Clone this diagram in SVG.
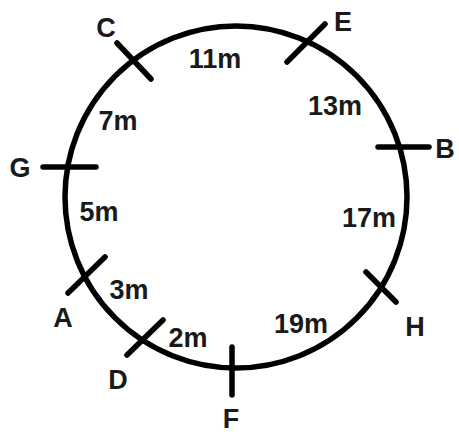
<svg xmlns="http://www.w3.org/2000/svg" width="459" height="434" viewBox="0 0 459 434">
<style>
.ring{fill:none;stroke:#000;stroke-width:5.5}
.tick{stroke:#000;stroke-width:5.5;stroke-linecap:round}
text{font-family:"Liberation Sans",Arial,sans-serif;font-weight:bold;font-size:27px;fill:#1a1a1a;text-anchor:middle}
</style>
<rect width="459" height="434" fill="#fff"/>
<g id="connectors">
<circle class="ring" cx="236" cy="197" r="171"/>
<text x="215" y="68">11m</text>
<text x="335" y="115">13m</text>
<text x="369" y="227">17m</text>
<text x="301" y="333">19m</text>
<text x="188" y="347">2m</text>
<text x="129" y="299">3m</text>
<text x="99" y="221">5m</text>
<text x="118" y="130">7m</text>
</g>
<g id="C"><line class="tick" x1="117" y1="43" x2="151" y2="79"/><text x="106" y="37">C</text></g>
<g id="E"><line class="tick" x1="287" y1="62" x2="325" y2="24"/><text x="343" y="31">E</text></g>
<g id="B"><line class="tick" x1="378" y1="147" x2="429" y2="147"/><text x="445" y="158">B</text></g>
<g id="H"><line class="tick" x1="366" y1="272" x2="396" y2="302"/><text x="415" y="336">H</text></g>
<g id="F"><line class="tick" x1="232" y1="347" x2="232" y2="395"/><text x="231" y="428">F</text></g>
<g id="D"><line class="tick" x1="127" y1="355" x2="163" y2="320"/><text x="118" y="389">D</text></g>
<g id="A"><line class="tick" x1="68" y1="293" x2="105" y2="257"/><text x="63" y="327">A</text></g>
<g id="G"><line class="tick" x1="43" y1="167" x2="96" y2="167"/><text x="20" y="177">G</text></g>
</svg>
